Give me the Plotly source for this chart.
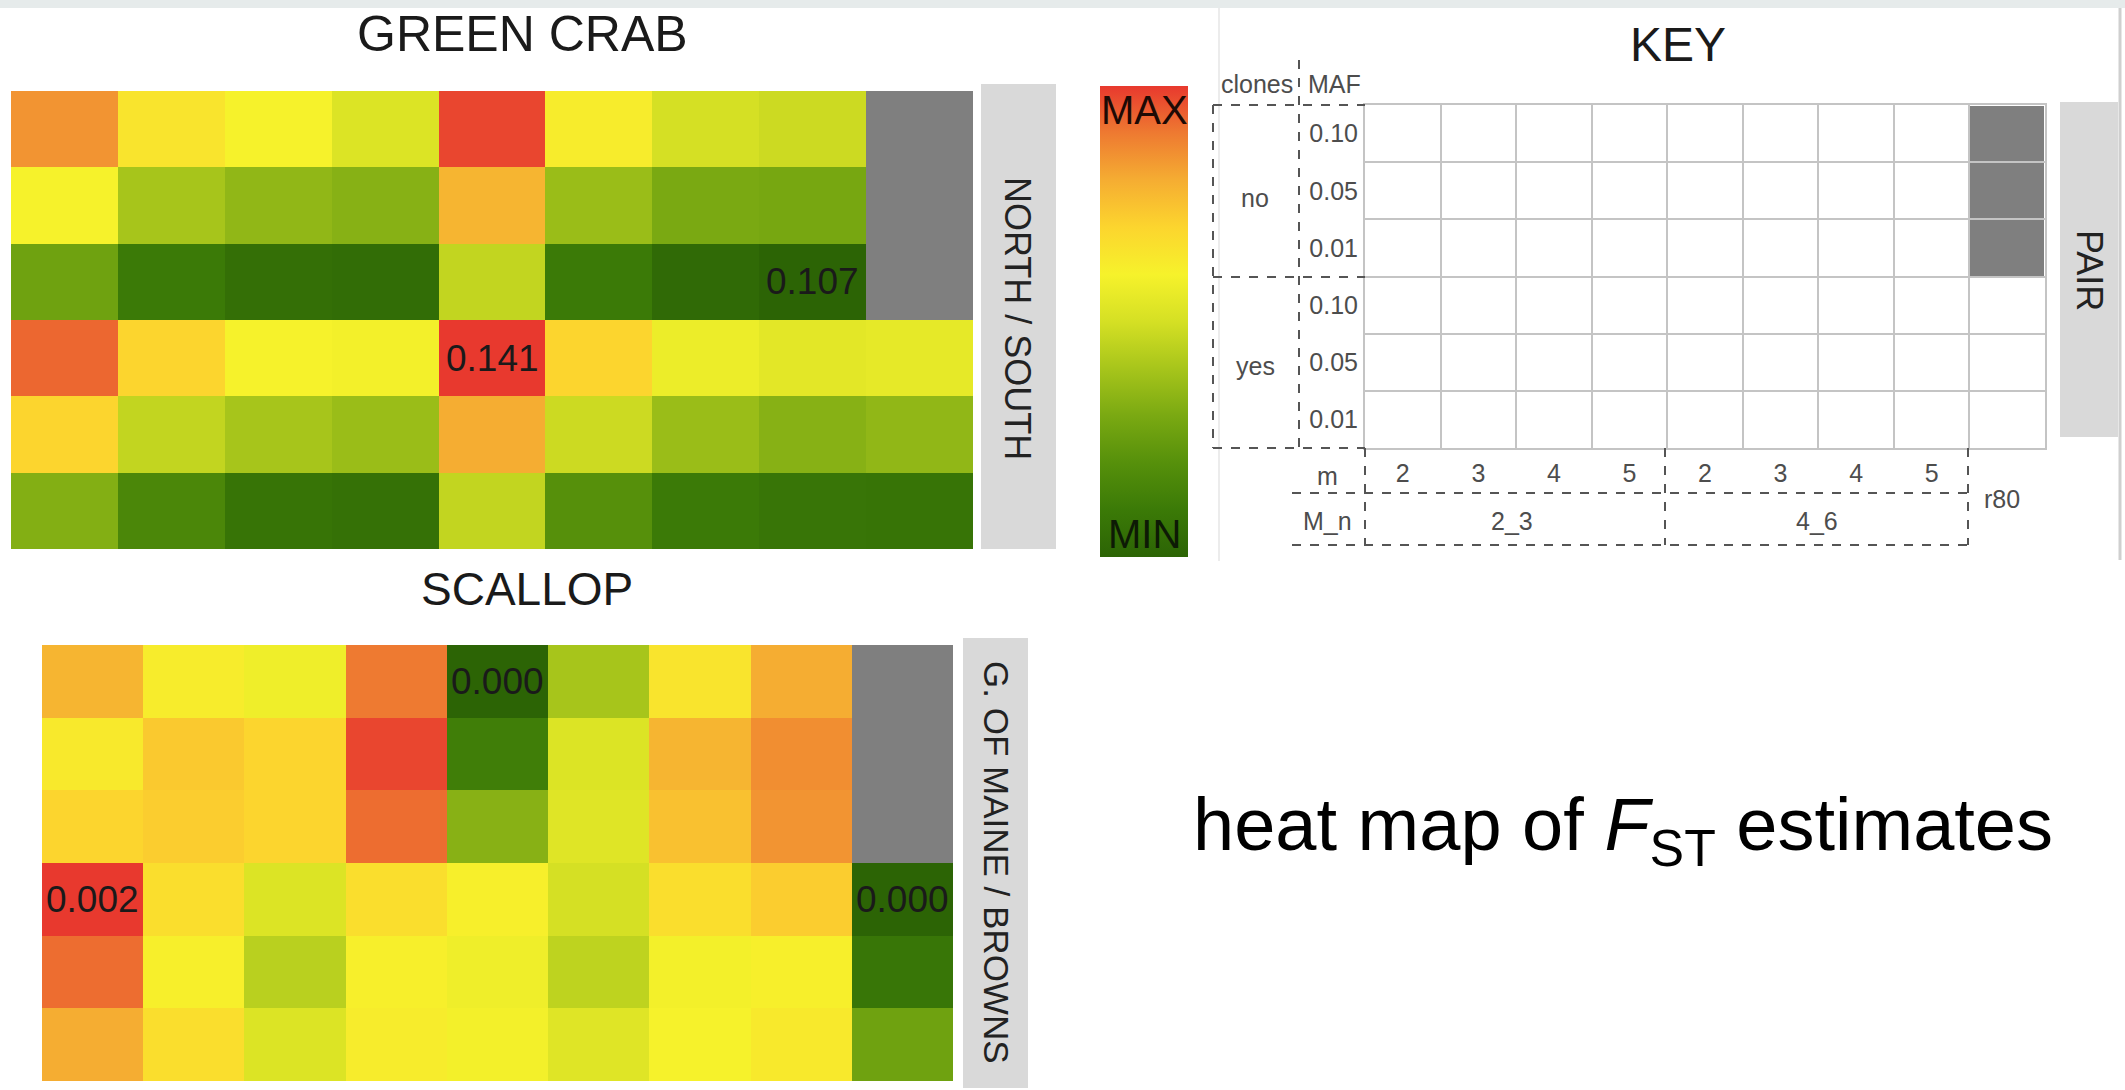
import plotly.graph_objects as go

W, H = 2125, 1090

# ---------------- data ----------------
columns = ["c1", "c2", "c3", "c4", "c5", "c6", "c7", "c8", "c9"]
rows = ["r1", "r2", "r3", "r4", "r5", "r6"]

green_crab = [
    [0.1359, 0.1291, 0.1274, 0.1247, 0.1403, 0.1281, 0.1240, 0.1233, None],
    [0.1274, 0.1206, 0.1189, 0.1182, 0.1335, 0.1196, 0.1172, 0.1169, None],
    [0.1162, 0.1104, 0.1087, 0.1084, 0.1226, 0.1104, 0.1080, 0.1070, None],
    [0.1386, 0.1308, 0.1274, 0.1271, 0.1410, 0.1308, 0.1264, 0.1254, 0.1257],
    [0.1308, 0.1226, 0.1206, 0.1196, 0.1342, 0.1233, 0.1196, 0.1182, 0.1189],
    [0.1179, 0.1124, 0.1094, 0.1090, 0.1226, 0.1138, 0.1104, 0.1097, 0.1094],
]
green_crab_labelled = [(2, 7), (3, 4)]

scallop = [
    [0.00156, 0.00124, 0.00116, 0.00180, 0.00000, 0.00080, 0.00130, 0.00160, None],
    [0.00126, 0.00146, 0.00140, 0.00196, 0.00024, 0.00104, 0.00156, 0.00172, None],
    [0.00140, 0.00144, 0.00140, 0.00184, 0.00066, 0.00106, 0.00150, 0.00170, None],
    [0.00200, 0.00134, 0.00104, 0.00134, 0.00122, 0.00100, 0.00134, 0.00144, 0.00000],
    [0.00184, 0.00122, 0.00088, 0.00122, 0.00116, 0.00090, 0.00118, 0.00122, 0.00016],
    [0.00160, 0.00134, 0.00104, 0.00124, 0.00118, 0.00106, 0.00120, 0.00126, 0.00054],
]
scallop_labelled = [(0, 4), (3, 0), (3, 8)]

key_clones = ["no", "no", "no", "yes", "yes", "yes"]
key_maf = ["0.10", "0.05", "0.01", "0.10", "0.05", "0.01"]
key_m = ["2", "3", "4", "5", "2", "3", "4", "5", "r80"]
key_mn = ["2_3", "2_3", "2_3", "2_3", "4_6", "4_6", "4_6", "4_6", "r80"]

titles = {"gc": "GREEN CRAB", "sc": "SCALLOP", "key": "KEY"}
strips = {"gc": "NORTH / SOUTH", "sc": "G. OF MAINE / BROWNS", "key": "PAIR"}

# ---------------- style ----------------
cs = [[0.0, '#2c6405'], [0.1, '#3b7a07'], [0.2, '#56900b'], [0.3, '#7aa912'],
      [0.4, '#a7c51b'], [0.5, '#d5e024'], [0.6, '#f6f22b'], [0.7, '#fcd52e'],
      [0.8, '#f5ad32'], [0.9, '#ee7a31'], [1.0, '#e8392e']]
GRAY = '#7f7f7f'
STRIP = '#d9d9d9'
FONT = "Liberation Sans, Arial, sans-serif"
KEYTXT = '#4d4d4d'
KEYSIZE = 25


def px(x):
    return x / W


def py(y):
    return 1 - y / H


def na_mask(z):
    return [[1 if v is None else None for v in r] for r in z]


def zrange(z):
    vals = [v for r in z for v in r if v is not None]
    return min(vals), max(vals)


fig = go.Figure()

# green crab
gmin, gmax = zrange(green_crab)
fig.add_trace(go.Heatmap(z=na_mask(green_crab), x=columns, y=rows, colorscale=[[0, GRAY], [1, GRAY]],
                         showscale=False, hoverinfo='skip', xaxis='x', yaxis='y'))
fig.add_trace(go.Heatmap(z=green_crab, x=columns, y=rows, colorscale=cs, zmin=gmin, zmax=gmax,
                         xaxis='x', yaxis='y', showscale=True,
                         colorbar=dict(x=px(1100), xanchor='left', y=py(86), yanchor='top',
                                       len=(557 - 86) / H, lenmode='fraction', thickness=88,
                                       thicknessmode='pixels', xpad=0, ypad=0, outlinewidth=0,
                                       showticklabels=False, ticks='')))

# scallop
smin, smax = zrange(scallop)
fig.add_trace(go.Heatmap(z=na_mask(scallop), x=columns, y=rows, colorscale=[[0, GRAY], [1, GRAY]],
                         showscale=False, hoverinfo='skip', xaxis='x2', yaxis='y2'))
fig.add_trace(go.Heatmap(z=scallop, x=columns, y=rows, colorscale=cs, zmin=smin, zmax=smax,
                         showscale=False, xaxis='x2', yaxis='y2'))

# key grid
key_gray = [[1 if (c == "no" and m == "r80") else None for m in key_m] for c in key_clones]
fig.add_trace(go.Heatmap(z=key_gray, x=list(range(len(key_m))), y=list(range(len(key_maf))),
                         colorscale=[[0, GRAY], [1, GRAY]], showscale=False, hoverinfo='skip',
                         xgap=2, ygap=2, xaxis='x3', yaxis='y3'))

hide = dict(showgrid=False, zeroline=False, showticklabels=False, ticks='', showline=False)
fig.update_layout(
    width=W, height=H, margin=dict(l=0, r=0, t=0, b=0),
    paper_bgcolor='white', plot_bgcolor='white', showlegend=False,
    xaxis=dict(domain=[px(11), px(973)], anchor='y', **hide),
    yaxis=dict(domain=[py(549), py(91)], anchor='x', autorange='reversed', **hide),
    xaxis2=dict(domain=[px(42), px(953)], anchor='y2', **hide),
    yaxis2=dict(domain=[py(1081), py(645)], anchor='x2', autorange='reversed', **hide),
    xaxis3=dict(domain=[px(1365), px(2045)], anchor='y3', range=[-0.5, 8.5],
                tickvals=list(range(8)), ticktext=key_m[:8], ticks='', ticklabelstandoff=2,
                tickfont=dict(family=FONT, size=KEYSIZE, color=KEYTXT),
                showgrid=False, zeroline=False, showline=True, mirror=True, linecolor='#c4c4c4', linewidth=2,
                minor=dict(tick0=0.5, dtick=1, showgrid=True, gridcolor='#c4c4c4', gridwidth=2, ticks='')),
    yaxis3=dict(domain=[py(448), py(105)], anchor='x3', range=[5.5, -0.5],
                tickvals=list(range(6)), ticktext=key_maf, ticks='', ticklabelstandoff=0,
                tickfont=dict(family=FONT, size=KEYSIZE, color=KEYTXT),
                showgrid=False, zeroline=False, showline=True, mirror=True, linecolor='#c4c4c4', linewidth=2,
                minor=dict(tick0=0.5, dtick=1, showgrid=True, gridcolor='#c4c4c4', gridwidth=2, ticks='')),
)

shapes = []
# top band & faint separators
shapes.append(dict(type='rect', xref='paper', yref='paper', x0=0, x1=1, y0=py(8), y1=1,
                   fillcolor='#e6ebeb', line=dict(width=0), layer='below'))
shapes.append(dict(type='line', xref='paper', yref='paper', x0=px(1219), x1=px(1219), y0=py(8), y1=py(561),
                   line=dict(color='#ececec', width=2)))
shapes.append(dict(type='line', xref='paper', yref='paper', x0=px(2120), x1=px(2120), y0=py(8), y1=py(560),
                   line=dict(color='#cfcfcf', width=3)))
# strips
for (x0, x1, y0, y1) in [(981, 1056, 84, 549), (963, 1028, 638, 1088), (2060, 2118, 102, 437)]:
    shapes.append(dict(type='rect', xref='paper', yref='paper', x0=px(x0), x1=px(x1), y0=py(y1), y1=py(y0),
                       fillcolor=STRIP, line=dict(width=0), layer='below'))
# key dashed lines
dash = dict(color='#555555', width=2, dash='dash')
segs = [
    (1299, 60, 1299, 448), (1213, 105, 1213, 448),
    (1213, 105, 1365, 105), (1213, 277, 1365, 277), (1213, 448, 1365, 448),
    (1292, 493, 1968, 493), (1292, 545, 1968, 545),
    (1365, 448, 1365, 545), (1665, 448, 1665, 545), (1968, 448, 1968, 545),
]
for (x0, y0, x1, y1) in segs:
    shapes.append(dict(type='line', xref='paper', yref='paper', x0=px(x0), x1=px(x1), y0=py(y0), y1=py(y1),
                       line=dash))
fig.update_layout(shapes=shapes)

ann = []


def text(x, y, s, size, family=FONT, color='#1a1a1a', angle=0, xanchor='center', xref='paper', yref='paper'):
    ann.append(dict(x=x if xref != 'paper' else px(x), y=y if yref != 'paper' else py(y),
                    xref=xref, yref=yref, text=s, showarrow=False,
                    font=dict(family=family, size=size, color=color), textangle=angle,
                    xanchor=xanchor, yanchor='middle'))


# value labels placed on their cells through the heatmap axes
for (i, j) in green_crab_labelled:
    text(columns[j], rows[i], f"{green_crab[i][j]:.3f}", 37, color='#1a1a1a', xref='x', yref='y')
for (i, j) in scallop_labelled:
    text(columns[j], rows[i], f"{scallop[i][j]:.3f}", 37, color='#1a1a1a', xref='x2', yref='y2')

text(522, 34, titles["gc"], 50)
text(527, 589, titles["sc"], 46)
text(1678, 44, titles["key"], 48)
text(1018, 318, strips["gc"], 36, color='#222222', angle=90)
text(997, 862, strips["sc"], 35, color='#222222', angle=90)
text(2090, 270, strips["key"], 36, color='#222222', angle=90)
text(1144, 110, "MAX", 40, color='#1e0a05')
text(1144, 534, "MIN", 40, color='#0d1a05')
text(1257, 84, "clones", KEYSIZE, color=KEYTXT)
text(1334, 84, "MAF", KEYSIZE, color=KEYTXT)
text(1255, 198, key_clones[0], KEYSIZE, color=KEYTXT)
text(1255, 366, key_clones[3], KEYSIZE, color=KEYTXT)
text(1327, 476, "m", KEYSIZE, color=KEYTXT)
text(1327, 521, "M_n", KEYSIZE, color=KEYTXT)
text(1512, 521, key_mn[0], KEYSIZE, color=KEYTXT)
text(1817, 521, key_mn[4], KEYSIZE, color=KEYTXT)
text(2002, 499, key_m[8], KEYSIZE, color=KEYTXT)
text(1623, 830, "heat map of <i>F</i><sub>ST</sub> estimates", 74, color='#000000')
fig.update_layout(annotations=ann)

fig.write_html("out.html")
